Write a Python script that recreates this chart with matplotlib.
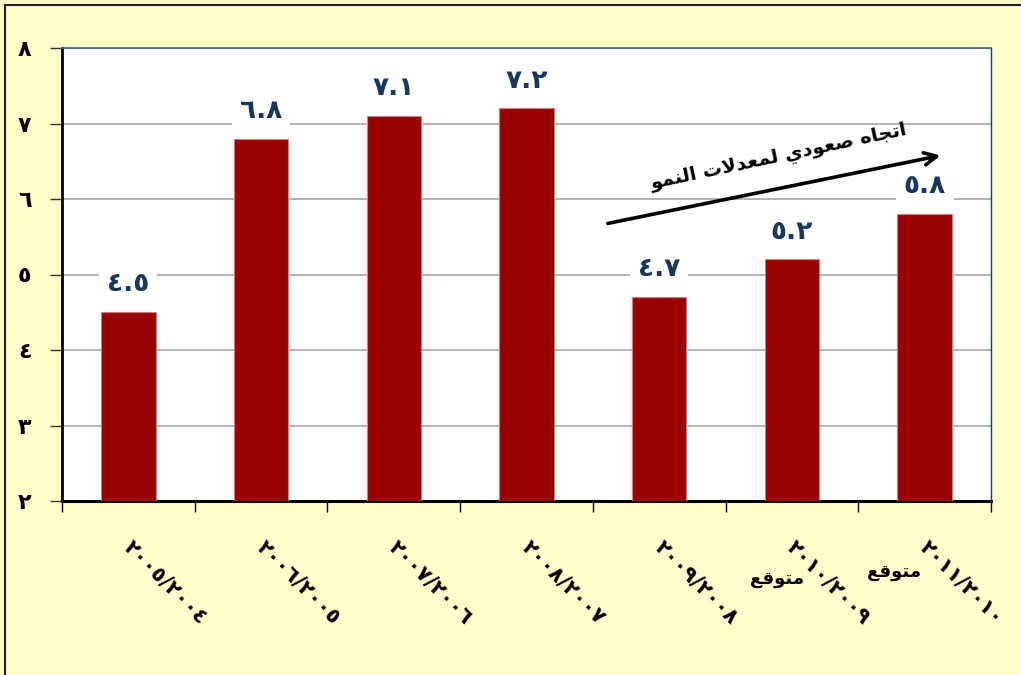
import matplotlib
matplotlib.use("Agg")
import matplotlib.pyplot as plt
from matplotlib.lines import Line2D

# data
years = ["٢٠٠٥/٢٠٠٤", "٢٠٠٦/٢٠٠٥", "٢٠٠٧/٢٠٠٦", "٢٠٠٨/٢٠٠٧",
         "٢٠٠٩/٢٠٠٨", "٢٠١٠/٢٠٠٩", "٢٠١١/٢٠١٠"]
growth = [4.5, 6.8, 7.1, 7.2, 4.7, 5.2, 5.8]
forecast = [False, False, False, False, False, True, True]
yticks = [2, 3, 4, 5, 6, 7, 8]
forecast_word = "متوقع"
trend_text = "اتجاه صعودي لمعدلات النمو"

AR_DIGITS = "٠١٢٣٤٥٦٧٨٩"

# minimal arabic shaping (no reshaper lib available): iso, fin, ini, med
FORMS = {
    'ا': ('\uFE8D', '\uFE8E', None, None),
    'ت': ('\uFE95', '\uFE96', '\uFE97', '\uFE98'),
    'ج': ('\uFE9D', '\uFE9E', '\uFE9F', '\uFEA0'),
    'ه': ('\uFEE9', '\uFEEA', '\uFEEB', '\uFEEC'),
    'ص': ('\uFEB9', '\uFEBA', '\uFEBB', '\uFEBC'),
    'ع': ('\uFEC9', '\uFECA', '\uFECB', '\uFECC'),
    'و': ('\uFEED', '\uFEEE', None, None),
    'د': ('\uFEA9', '\uFEAA', None, None),
    'ي': ('\uFEF1', '\uFEF2', '\uFEF3', '\uFEF4'),
    'ل': ('\uFEDD', '\uFEDE', '\uFEDF', '\uFEE0'),
    'م': ('\uFEE1', '\uFEE2', '\uFEE3', '\uFEE4'),
    'ن': ('\uFEE5', '\uFEE6', '\uFEE7', '\uFEE8'),
    'ق': ('\uFED5', '\uFED6', '\uFED7', '\uFED8'),
}


def joins_next(c):
    return c in FORMS and FORMS[c][2] is not None


def shape(s):
    res = []
    i = 0
    n = len(s)
    while i < n:
        c = s[i]
        if c not in FORMS:
            res.append(c)
            i += 1
            continue
        conn_prev = i > 0 and joins_next(s[i - 1])
        if c == 'ل' and i + 1 < n and s[i + 1] == 'ا':
            res.append('\uFEFC' if conn_prev else '\uFEFB')
            i += 2
            continue
        conn_next = joins_next(c) and i + 1 < n and s[i + 1] in FORMS
        iso, fin, ini, med = FORMS[c]
        if conn_prev and conn_next:
            g = med
        elif conn_prev:
            g = fin
        elif conn_next:
            g = ini
        else:
            g = iso
        res.append(g)
        i += 1
    return ''.join(reversed(res))


def ar_num(v):
    s = str(v)
    return ''.join(AR_DIGITS[int(ch)] if ch.isdigit() else ch for ch in s)


plt.rcParams['font.family'] = ['DejaVu Sans']

fig = plt.figure(figsize=(10.21, 6.75), dpi=100, facecolor='#FFFFCC')
ax = fig.add_axes([62 / 1021, 1 - 501 / 675, 929 / 1021, 453 / 675])
ax.set_facecolor('white')

x = list(range(len(growth)))
ax.bar(x, growth, width=0.41, bottom=0, color='#990000', edgecolor='#D08080',
       linewidth=0.8, zorder=3)

ax.set_ylim(2, 8)
ax.set_xlim(-0.5, len(growth) - 0.5)
ax.set_yticks(yticks)
ax.set_yticklabels([ar_num(t) for t in yticks], fontsize=16, fontweight='bold')
ax.yaxis.grid(True, color='#A6A6A6', linewidth=1.2, zorder=0)
ax.tick_params(axis='y', length=9, width=1, pad=13, color='#333333')

# category boundary ticks on the bottom axis
ax.set_xticks([i - 0.5 for i in range(len(growth) + 1)])
ax.set_xticklabels([])
ax.tick_params(axis='x', length=8, width=1, direction='out')

ax.spines['left'].set_linewidth(2)
ax.spines['bottom'].set_linewidth(2.2)
ax.spines['left'].set_color('black')
ax.spines['bottom'].set_color('black')
ax.spines['top'].set_color('#4A5E7A')
ax.spines['right'].set_color('#1F3864')
ax.spines['top'].set_linewidth(1.2)
ax.spines['right'].set_linewidth(1)

# data labels
for i, v in enumerate(growth):
    ax.annotate(ar_num(v), (i, v), xytext=(0, 20), textcoords='offset points',
                ha='center', va='center', fontsize=19, fontweight='bold',
                color='#17375E', zorder=5,
                bbox=dict(boxstyle='square,pad=0.3', fc='white', ec='none'))

# rotated category labels
for i, lab in enumerate(years):
    ax.annotate(lab, (i, 2), xytext=(4, -26), textcoords='offset points',
                ha='left', va='top', rotation=-45, rotation_mode='anchor',
                fontsize=15, fontweight='bold', annotation_clip=False)
    if forecast[i]:
        dx = -11 if i == 5 else -22
        dy = -56 if i == 5 else -51
        ax.annotate(shape(forecast_word), (i, 2), xytext=(dx, dy),
                    textcoords='offset points', ha='center', va='center',
                    fontsize=13, fontweight='bold', annotation_clip=False)

# trend arrow
ax.annotate('', xy=(6.14, 6.583), xytext=(3.592, 5.669),
            arrowprops=dict(arrowstyle='->', lw=2.6, color='black',
                            mutation_scale=22), zorder=6)
ax.text(4.9, 6.55, shape(trend_text), rotation=12, ha='center', va='center',
        fontsize=14, fontweight='bold', zorder=6)

# outer frame lines (left and top)
fig.add_artist(Line2D([5 / 1021, 5 / 1021], [-0.01, 1 - 5 / 675], color='#222222',
                      lw=1.5, transform=fig.transFigure))
fig.add_artist(Line2D([5 / 1021, 1.01], [1 - 5 / 675, 1 - 5 / 675], color='#222222',
                      lw=1.5, transform=fig.transFigure))

fig.savefig('out.png', dpi=100, facecolor=fig.get_facecolor())
